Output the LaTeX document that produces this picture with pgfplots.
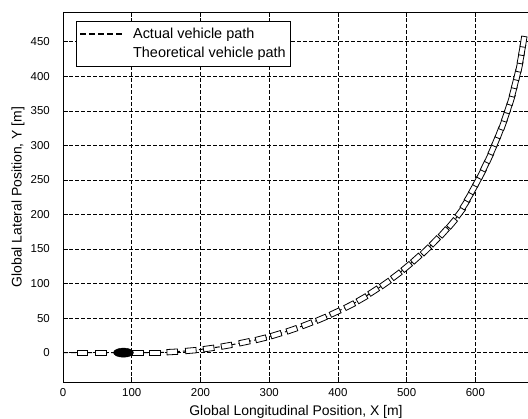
\documentclass[border=0pt]{standalone}
\usepackage{fontspec}
\setmainfont{Liberation Sans}
\usepackage{pgfplots}
\usepackage{pgfplotstable}
\pgfplotsset{compat=1.18}

% vehicle outline and the crowd of outlines at the start
\pgfdeclareplotmark{car}{%
  \pgfpathrectangle{\pgfqpoint{-5.3bp}{-2.7bp}}{\pgfqpoint{10.6bp}{5.4bp}}%
  \pgfusepathqfillstroke}
\pgfdeclareplotmark{blob}{%
  \pgfpathellipse{\pgfpointorigin}{\pgfqpoint{10bp}{0bp}}{\pgfqpoint{0bp}{4.6bp}}%
  \pgfusepathqfillstroke}

% centre line of the vehicle (x y)
\pgfplotstableread{
x y
0 0
28 0
55 0
88 0
109 0
134 0
159 1
186 3
212 6
238 10
264 15
288 20
310 26
333 33
355 41
376 49
396 58
417 68
435 78
452 89
469 100
485 112
500 124
514 136
528 148
541 161
554 174
566 187
578 203
585 215
591 226
597 237
603 248
609 259
614 270
620 282
625 294
630 306
635 318
640 330
644 342
648 354
652 366
655 378
658 390
661 402
664 414
666 426
668 438
670 450
}\pathdata

% vehicle outlines (x y heading)
\pgfplotstableread{
x y h
28 0 0
55 0 0
109 0 0
134 0 0
159 1 3
186 3 5
212 6 8
238 10 10
264 15 12
288 20 14
310 26 17
333 33 19
355 41 21
376 49 23
396 58 25
417 68 27
435 78 30
452 89 33
469 100 35
485 112 37
500 124 40
514 136 42
528 148 44
541 161 46
554 174 48
566 187 50
578 203 53
585 215 57
591 226 59
597 237 61
603 248 62
609 259 63
614 270 64
620 282 65
625 294 66
630 306 67
635 318 69
640 330 70
644 342 71
648 354 72
652 366 73
655 378 75
658 390 76
661 402 77
664 414 78
666 426 79
668 438 80
670 450 81
}\cardata

\begin{document}
\begin{tikzpicture}
\useasboundingbox (0,0) rectangle (528bp,419bp);
\begin{axis}[
  at={(63bp,37bp)}, anchor=south west,
  scale only axis, width=466bp, height=370bp,
  xmin=0, xmax=678, ymin=-42.5, ymax=493,
  xtick={0,100,...,600}, ytick={0,50,...,450},
  tick align=inside, tick pos=both,
  major tick length=5bp,
  tick style={black, line width=0.5bp},
  axis line style={black, line width=0.6bp},
  grid=major,
  major grid style={black, line width=0.5bp, dash pattern=on 3.5bp off 2.5bp},
  /pgf/number format/assume math mode=true,
  ticklabel style={font=\fontsize{11.5}{13}\selectfont},
  xticklabel style={inner sep=0pt, yshift=-6bp},
  yticklabel style={inner sep=0pt, xshift=-13bp},
  label style={font=\fontsize{14}{16}\selectfont},
  xlabel={Global Longitudinal Position, X [m]},
  ylabel={Global Lateral Position, Y [m]},
  xlabel style={at={(axis description cs:0.5,0)}, anchor=center, yshift=-29.7bp},
  ylabel style={at={(axis description cs:-0.0966,0.5)}, anchor=center},
  legend style={at={(0.028,0.976)}, anchor=north west, draw=black,
    line width=0.6bp, fill=white, font=\fontsize{14.5}{17}\selectfont,
    inner xsep=3bp, inner ysep=5bp, row sep=3bp, cells={anchor=west}},
]
\addplot[black, line width=1bp, dash pattern=on 5bp off 3bp,
  legend image code/.code={\draw[black, line width=1.8bp, dash pattern=on 6bp off 3bp]
    (0bp,0bp) -- (42bp,0bp); \path (50bp,0bp);},
  legend image post style={line width=1.8bp, dash pattern=on 6bp off 3bp}]
  table[x=x, y=y] {\pathdata};
\addlegendentry{Actual vehicle path}
\addlegendimage{draw=white, white,
  legend image code/.code={\path (0bp,0bp) -- (50bp,0bp);}}
\addlegendentry{Theoretical vehicle path}

\addplot[scatter, only marks, mark=car, line width=0.8bp,
  scatter/use mapped color={draw=black, fill=white},
  visualization depends on={\thisrow{h} \as \hdg},
  scatter/@pre marker code/.append style={/tikz/rotate=\hdg},
  forget plot] table[x=x, y=y] {\cardata};

\addplot[only marks, mark=blob, mark options={draw=black, fill=black},
  forget plot] coordinates {(88,0)};
\end{axis}
\end{tikzpicture}
\end{document}
